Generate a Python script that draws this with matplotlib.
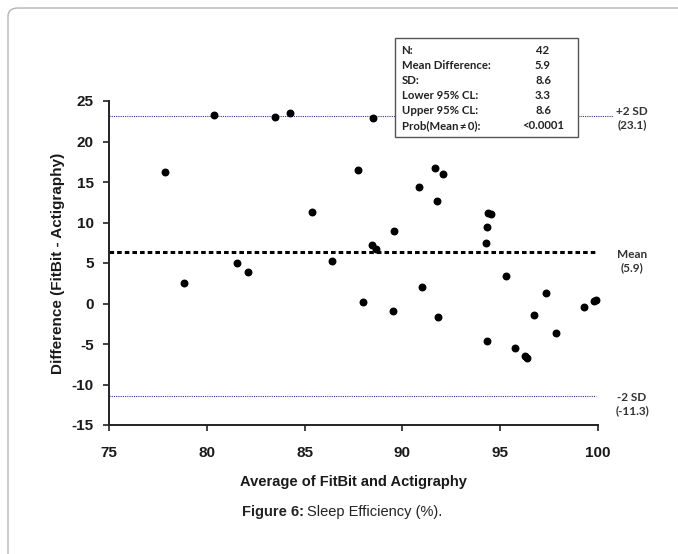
import matplotlib
matplotlib.use("Agg")
import matplotlib.pyplot as plt
from matplotlib.patches import Rectangle, FancyBboxPatch

plt.rcParams["axes.unicode_minus"] = False

# ---- data ----
avg_vals = [77.86, 78.81, 80.38, 81.52, 82.09, 83.50, 84.24, 85.38, 86.42, 87.75,
            91.67, 92.10, 90.85, 91.76, 89.56, 88.43, 88.65, 94.40, 94.52, 94.32,
            94.27, 95.31, 90.99, 97.35, 87.99, 89.51, 91.84, 96.74, 88.49,
            99.28, 99.82, 99.90, 97.88, 94.33, 95.75, 96.30, 96.40]
diff_vals = [16.29, 2.55, 23.30, 4.98, 3.94, 23.05, 23.55, 11.30, 5.21, 16.54,
             16.79, 15.97, 14.37, 12.64, 8.93, 7.24, 6.74, 11.23, 11.03, 9.42,
             7.52, 3.45, 2.05, 1.27, 0.16, -0.91, -1.65, -1.37, 22.96,
             -0.38, 0.25, 0.40, -3.67, -4.58, -5.49, -6.50, -6.70]

upper_sd = 23.1
mean_line = 6.4
lower_sd = -11.4
ref_labels = ["+2 SD\n(23.1)", "Mean\n(5.9)", "-2 SD\n(-11.3)"]

stat_names = ["N:", "Mean Difference:", "SD:", "Lower 95% CL:", "Upper 95% CL:",
              "Prob(Mean\u2009\u2260\u20090):"]
stat_values = ["42", "5.9", "8.6", "3.3", "8.6", "<0.0001"]

x_ticks = [75, 80, 85, 90, 95, 100]
y_ticks = [-15, -10, -5, 0, 5, 10, 15, 20, 25]

W, H = 678, 554
fig = plt.figure(figsize=(W / 100, H / 100), dpi=100)


def fx(px):
    return px / W


def fy(py):
    return 1 - py / H


# outer frame
frame = FancyBboxPatch((fx(8), fy(600)), fx(690) - fx(8), fy(8) - fy(600),
                       boxstyle="round,pad=0,rounding_size=0.015",
                       transform=fig.transFigure, facecolor="none",
                       edgecolor="#b4b4b4", lw=1.0, clip_on=False)
fig.patches.append(frame)

ax = fig.add_axes([fx(109.2), fy(425), fx(597.7) - fx(109.2), fy(101) - fy(425)])
ax.set_xlim(75, 100)
ax.set_ylim(-15, 25)

ax.scatter(avg_vals, diff_vals, s=22, color="black", zorder=5, clip_on=False)

ax.plot([75, 100.8], [upper_sd, upper_sd], color="#34348a", lw=0.8,
        linestyle=(0, (1, 1)), clip_on=False)
ax.plot([75, 99.9], [mean_line, mean_line], color="black", lw=2.2,
        linestyle=(0, (1.5, 1.0)), clip_on=False)
ax.plot([75, 99.9], [lower_sd, lower_sd], color="#34348a", lw=0.8,
        linestyle=(0, (1, 1)), clip_on=False)

for spine in ["top", "right"]:
    ax.spines[spine].set_visible(False)
for spine in ["left", "bottom"]:
    ax.spines[spine].set_linewidth(1.4)
    ax.spines[spine].set_color("#222222")

ax.set_xticks(x_ticks)
ax.set_yticks(y_ticks)
ax.tick_params(axis="both", direction="out", length=4, width=1.2, color="#222222")
ax.tick_params(axis="x", pad=11)
ax.tick_params(axis="y", pad=7)
for lab in ax.get_xticklabels() + ax.get_yticklabels():
    lab.set_fontfamily("Liberation Sans")
    lab.set_fontweight("bold")
    lab.set_fontsize(11)
    lab.set_color("#1a1a1a")

ax.set_xlabel("Average of FitBit and Actigraphy", fontfamily="Liberation Sans",
              fontweight="bold", fontsize=10.5, labelpad=11, color="#1a1a1a")
ax.set_ylabel("Difference (FitBit - Actigraphy)", fontfamily="Liberation Sans",
              fontweight="bold", fontsize=11, labelpad=5, color="#1a1a1a")

# right-hand reference labels
for lab, py in zip(ref_labels, [118, 261, 404]):
    fig.text(fx(632), fy(py), lab, ha="center", va="center", fontfamily="Lato",
             fontweight="bold", fontsize=8.5, color="#333333", linespacing=1.3)

# stats box
fig.patches.append(Rectangle((fx(395), fy(136.7)), fx(578.3) - fx(395),
                             fy(38.3) - fy(136.7), transform=fig.transFigure,
                             facecolor="white", edgecolor="#555555", lw=1.0))
row_y = [50.7, 65.5, 80.5, 95.5, 110.5, 125.5]
for name, val, py in zip(stat_names, stat_values, row_y):
    fig.text(fx(401.5), fy(py), name, ha="left", va="center",
             family=["Lato", "DejaVu Sans"],
             fontweight="bold", fontsize=8.2, color="#222222")
    fig.text(fx(543), fy(py), val, ha="center", va="center", fontfamily="Lato",
             fontweight="bold", fontsize=8.2, color="#222222")

# caption
fig.text(fx(304), fy(512), "Figure 6:", ha="right", va="center",
         fontfamily="Liberation Sans", fontweight="bold", fontsize=10.5, color="#222222")
fig.text(fx(307), fy(512), "Sleep Efficiency (%).", ha="left", va="center",
         fontfamily="Liberation Sans", fontsize=10.5, color="#222222")

fig.savefig("out.png", dpi=100)
